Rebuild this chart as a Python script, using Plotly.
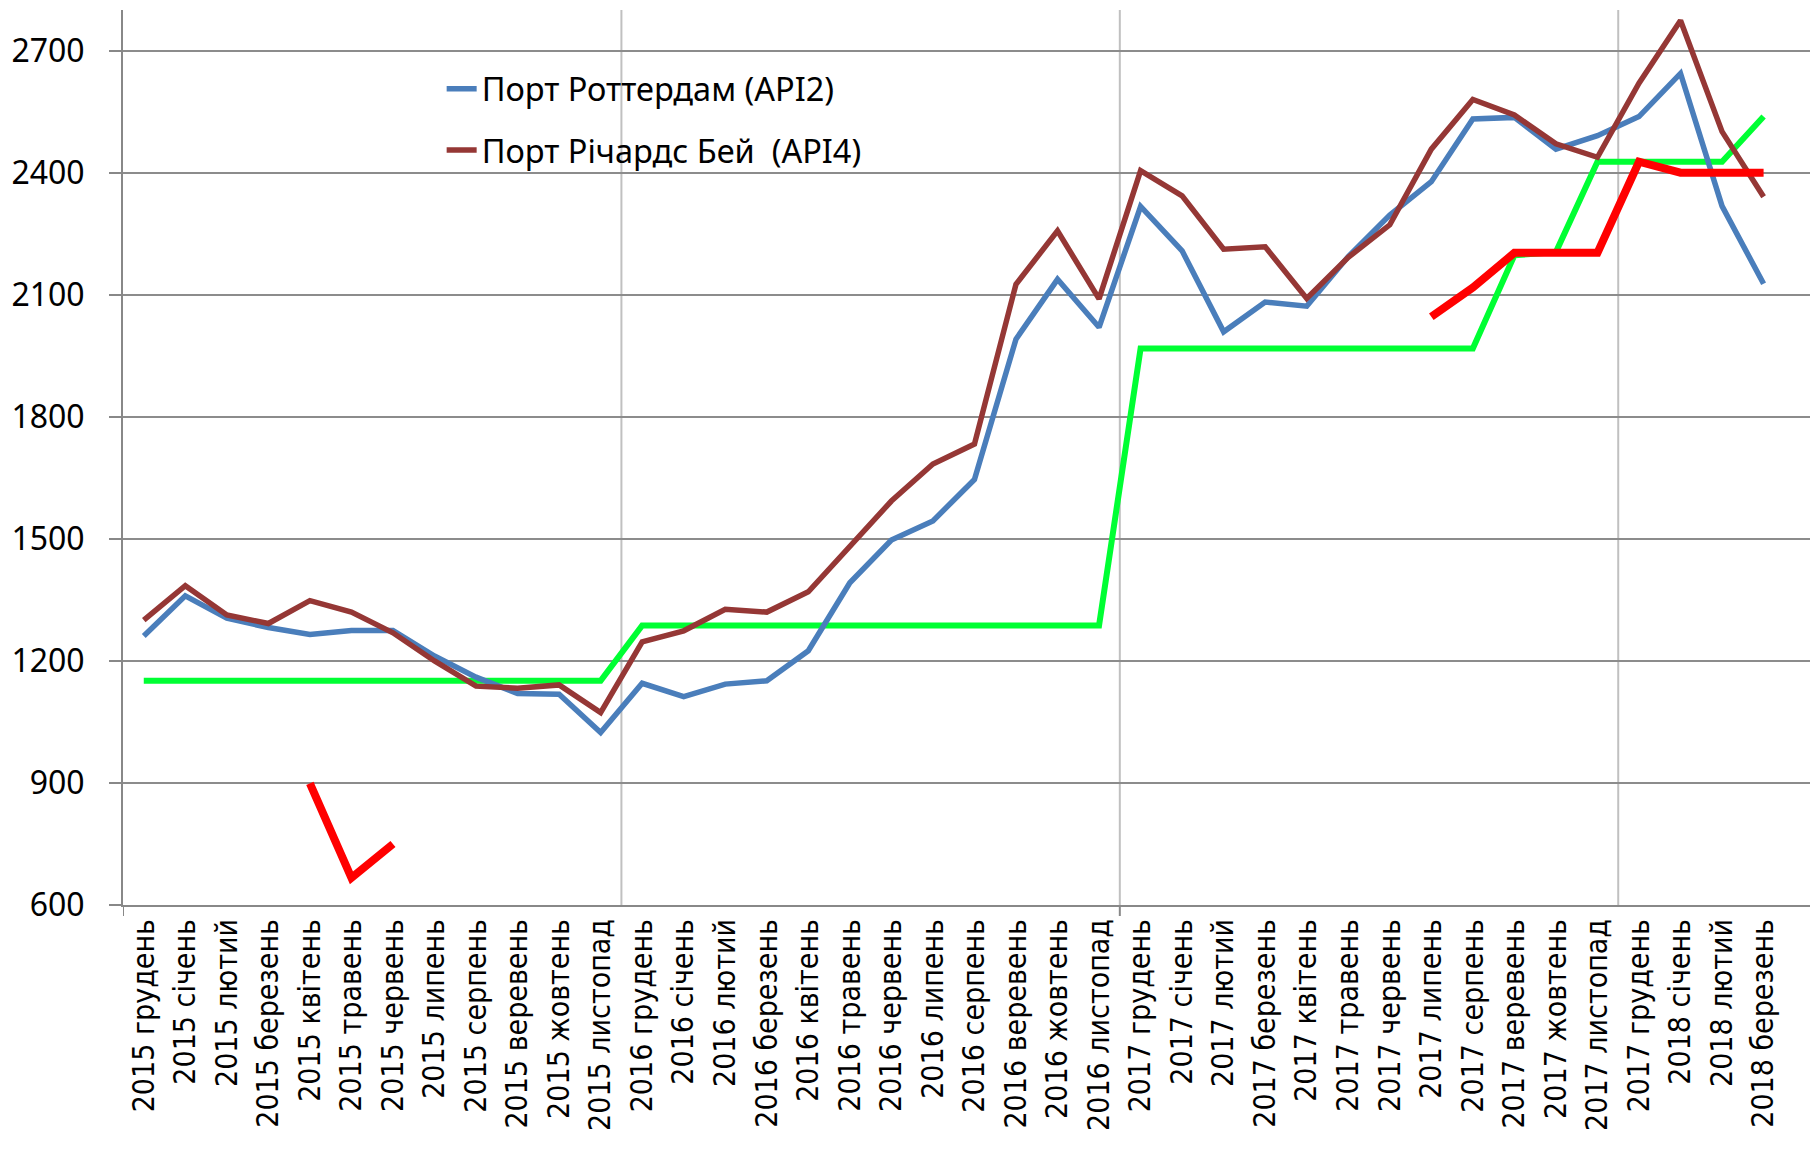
import plotly.graph_objects as go

categories = [
    "2015 грудень", "2015 січень", "2015 лютий", "2015 березень", "2015 квітень",
    "2015 травень", "2015 червень", "2015 липень", "2015 серпень", "2015 веревень",
    "2015 жовтень", "2015 листопад",
    "2016 грудень", "2016 січень", "2016 лютий", "2016 березень", "2016 квітень",
    "2016 травень", "2016 червень", "2016 липень", "2016 серпень", "2016 веревень",
    "2016 жовтень", "2016 листопад",
    "2017 грудень", "2017 січень", "2017 лютий", "2017 березень", "2017 квітень",
    "2017 травень", "2017 червень", "2017 липень", "2017 серпень", "2017 веревень",
    "2017 жовтень", "2017 листопад",
    "2017 грудень", "2018 січень", "2018 лютий", "2018 березень",
]

api2_rotterdam = [1261, 1360, 1305, 1282, 1265, 1275, 1275, 1212, 1160, 1120, 1118, 1024,
                  1145, 1112, 1143, 1151, 1225, 1392, 1497, 1544, 1646, 1991, 2138, 2020,
                  2317, 2208, 2009, 2082, 2072, 2194, 2296, 2378, 2532, 2536, 2458, 2491,
                  2538, 2644, 2318, 2127]

api4_richards = [1300, 1385, 1313, 1292, 1348, 1320, 1269, 1200, 1138, 1133, 1141, 1073,
                 1247, 1274, 1327, 1320, 1370, 1484, 1593, 1684, 1733, 2126, 2257, 2090,
                 2405, 2343, 2212, 2218, 2091, 2192, 2272, 2458, 2580, 2542, 2471, 2438,
                 2620, 2774, 2501, 2341]

green_series = [1151, 1151, 1151, 1151, 1151, 1151, 1151, 1151, 1151, 1151, 1151, 1151,
                1287, 1287, 1287, 1287, 1287, 1287, 1287, 1287, 1287, 1287, 1287, 1287,
                1968, 1968, 1968, 1968, 1968, 1968, 1968, 1968, 1968, 2197, 2205, 2427,
                2427, 2427, 2427, 2538]

red_series = [None, None, None, None, 899, 667, 750, None, None, None, None, None,
              None, None, None, None, None, None, None, None, None, None, None, None,
              None, None, None, None, None, None, None, 2046, 2118, 2203, 2201, 2203,
              2427, 2400, 2400, 2400]

y_ticks = [600, 900, 1200, 1500, 1800, 2100, 2400, 2700]
year_boundaries = [11.5, 23.5, 35.5]

x = list(range(len(categories)))

fig = go.Figure()
fig.add_trace(go.Scatter(x=x, y=green_series, mode="lines", showlegend=False,
                         line=dict(color="#00ff33", width=6)))
fig.add_trace(go.Scatter(x=x, y=api2_rotterdam, mode="lines", name="Порт Роттердам (API2)",
                         legendgroup="a", line=dict(color="#4a7ebb", width=5.5)))
fig.add_trace(go.Scatter(x=x, y=api4_richards, mode="lines", name="Порт Річардс Бей  (API4)",
                         legendgroup="b", line=dict(color="#953735", width=5.5)))
fig.add_trace(go.Scatter(x=x, y=red_series, mode="lines", showlegend=False,
                         connectgaps=False, line=dict(color="#ff0000", width=8)))

shapes = []
for b in year_boundaries:
    shapes.append(dict(type="line", xref="x", yref="y", x0=b, x1=b, y0=600, y1=2800,
                       line=dict(color="#c0c0c0", width=2), layer="below"))
for b in [-0.5, 23.5]:
    shapes.append(dict(type="line", xref="x", yref="paper", x0=b, x1=b, y0=0, y1=-11 / 895,
                       line=dict(color="#888888", width=2)))

fig.update_layout(
    width=1810, height=1134,
    margin=dict(l=115, r=0, t=2, b=237),
    paper_bgcolor="white", plot_bgcolor="white",
    shapes=shapes,
    showlegend=True,
    legend=dict(x=0.188, y=0.943, xanchor="left", yanchor="top",
                font=dict(family="Noto Sans", size=32.5, color="black"),
                bgcolor="rgba(0,0,0,0)", tracegroupgap=16),
    xaxis=dict(
        range=[-0.5, 40.31], automargin=False,
        tickmode="array", tickvals=x, ticktext=categories,
        tickangle=-90, ticks="", showgrid=False, zeroline=False,
        showline=True, linecolor="#888888", linewidth=2,
        tickfont=dict(family="DejaVu Sans Condensed, DejaVu Sans", size=30, color="black"),
    ),
    yaxis=dict(
        range=[600, 2800], automargin=False,
        tickmode="array", tickvals=y_ticks,
        showgrid=True, gridcolor="#8c8c8c", gridwidth=2,
        zeroline=False, showline=True, linecolor="#888888", linewidth=2,
        ticks="outside", ticklen=12, tickcolor="#888888", tickwidth=2,
        ticklabelstandoff=18,
        tickfont=dict(family="Noto Sans", size=32, color="black"),
    ),
)

fig.write_html("out.html")
